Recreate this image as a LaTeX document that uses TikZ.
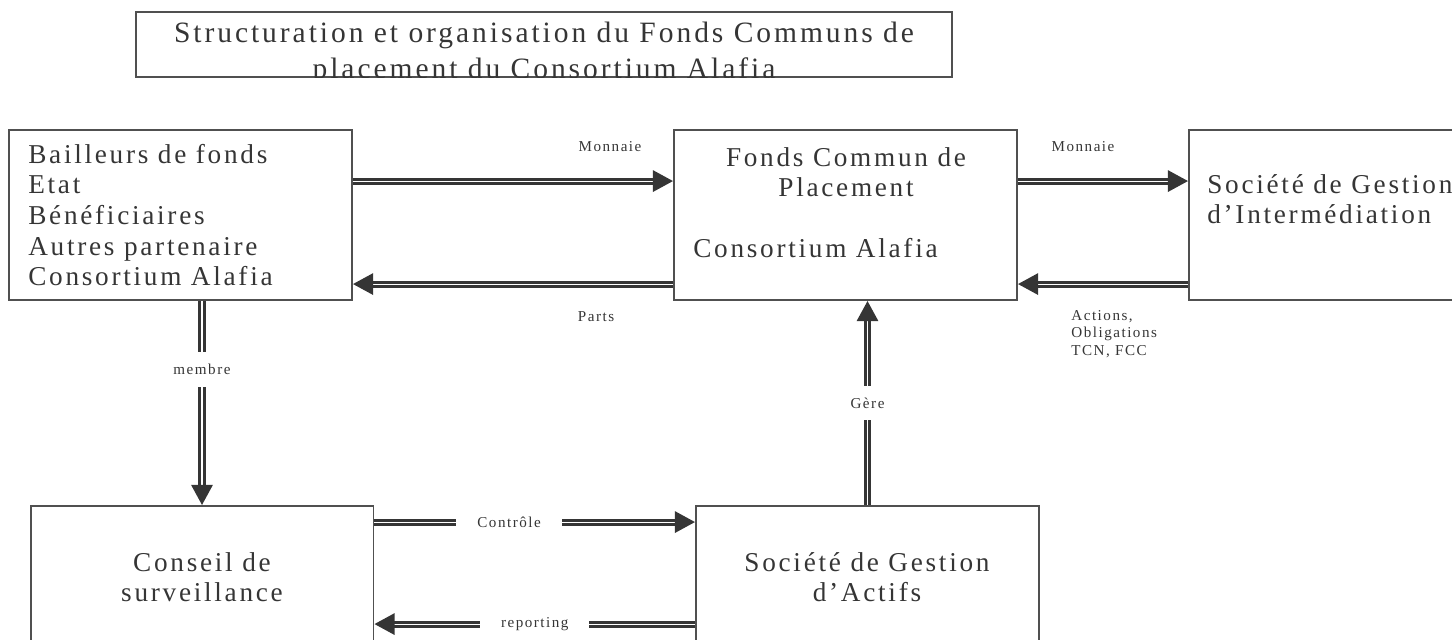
\documentclass[tikz,border=0pt]{standalone}
\usepackage{fontspec}
\setmainfont{Liberation Serif}[LetterSpace=10]
\usetikzlibrary{arrows.meta, calc}
\definecolor{inkgray}{HTML}{353535}
\definecolor{framegray}{HTML}{505050}

\begin{document}
\begin{tikzpicture}[x=0.02cm, y=-0.02cm,
    box/.style={draw=framegray, line width=1.1pt, minimum width=6.86cm, minimum height=3.4cm, inner sep=0pt},
    boxtext/.style={text=inkgray, font=\fontsize{15.5}{17.4}\selectfont, inner sep=0pt},
    titletext/.style={text=inkgray, font=\fontsize{16.8}{20}\selectfont, inner sep=0pt, anchor=base},
    smalltext/.style={text=inkgray, font=\fontsize{8.6}{10}\selectfont, inner sep=0pt},
    gaplabel/.style={smalltext, fill=white, inner xsep=0.42cm, inner ysep=0.24cm},
    flow/.style={draw=inkgray, line width=1.7pt, double=white, double distance=0.6pt,
        -{Triangle[length=11.5pt, width=12pt]}}]

        \useasboundingbox (0,0) rectangle (1452,639);
        \clip (0,0) rectangle (1452,639);

        % Title
        \node at (544,44.5) [draw=framegray, line width=1.1pt, minimum width=16.32cm, minimum height=1.3cm] (title) {};
        \begin{scope}
            \clip (title.south west) rectangle (title.north east);
            \node at (544,42) [titletext] (titleA) {Structuration et organisation du Fonds Communs de};
            \node at (544,78) [titletext] (titleB) {placement du Consortium Alafia};
        \end{scope}

        % Boxes
        \node at (180.5,215) [box] (bailleurs) {};
        \node at (845.5,215) [box] (fcp) {};
        \node at (1360.5,215) [box] (sgi) {};
        \node at (202,591) [box] (conseil) {};
        \node at (867.5,591) [box] (sga) {};

        % Box texts
        \node at (28,215) [boxtext, align=left, anchor=west] (bailleurstext) {Bailleurs de fonds\\Etat\\Bénéficiaires\\Autres partenaire\\Consortium Alafia};
        \node at (846,172) [boxtext, align=center] (fcptitle) {Fonds Commun de\\Placement};
        \node at (693,248) [boxtext, anchor=west] (fcpname) {Consortium Alafia};
        \node at (1207,199) [boxtext, align=left, anchor=west] (sgitext) {Société de Gestion\\d’Intermédiation};
        \node at (202,577) [boxtext, align=center] (conseiltext) {Conseil de\\surveillance};
        \node at (867,577) [boxtext, align=center] (sgatext) {Société de Gestion\\d’Actifs};

        % Flows between fund and partners
        \draw [flow] ($(bailleurs.north east)+(0,52)$) -- ($(fcp.north west)+(0,52)$);
        \draw [flow] ($(fcp.north west)+(0,155)$) -- ($(bailleurs.north east)+(0,155)$);
        \draw [flow] ($(fcp.north east)+(0,52)$) -- ($(sgi.north west)+(0,52)$);
        \draw [flow] ($(sgi.north west)+(0,155)$) -- ($(fcp.north east)+(0,155)$);

        \node at (610,147) [smalltext] (monnaieA) {Monnaie};
        \node at (1083,147) [smalltext] (monnaieB) {Monnaie};
        \node at (596,317) [smalltext] (parts) {Parts};
        \node at (1071,334) [smalltext, align=left, anchor=west] (titres) {Actions,\\Obligations\\TCN, FCC};

        % Governance
        \draw [flow] (bailleurs.south -| conseil.north) -- node [gaplabel, pos=0.335] (membre) {membre} (conseil.north);
        \draw [flow] (sga.north) -- node [gaplabel] (gere) {Gère} (sga.north |- fcp.south);
        \draw [flow] ($(conseil.north east)+(0,17)$) -- node [gaplabel, pos=0.42] (controle) {Contrôle} ($(sga.north west)+(0,17)$);
        \draw [flow] ($(sga.north west)+(0,119)$) -- node [gaplabel] (reporting) {reporting} ($(conseil.north east)+(0,119)$);

\end{tikzpicture}
\end{document}
